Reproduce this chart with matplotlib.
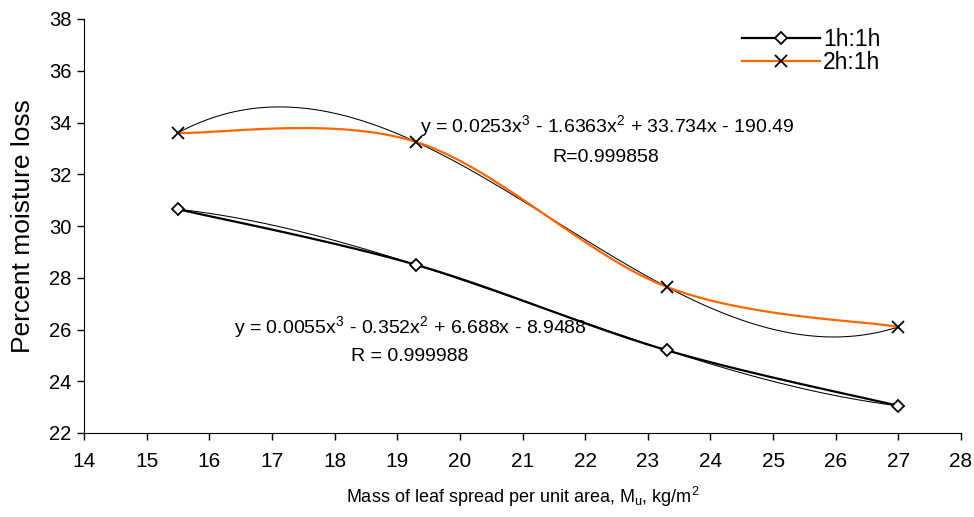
import numpy as np
import matplotlib
matplotlib.use('Agg')
import matplotlib.pyplot as plt

# data
mass = [15.5, 19.3, 23.3, 27.0]
loss_1h1h = [30.65, 28.5, 25.2, 23.05]
loss_2h1h = [33.6, 33.25, 27.65, 26.1]

eq_1h1h = 'y = 0.0055x$^\\mathregular{3}$ - 0.352x$^\\mathregular{2}$ + 6.688x - 8.9488'
r_1h1h = 'R = 0.999988'
eq_2h1h = 'y = 0.0253x$^\\mathregular{3}$ - 1.6363x$^\\mathregular{2}$ + 33.734x - 190.49'
r_2h1h = 'R=0.999858'

plt.rcParams['font.family'] = ['Liberation Sans', 'DejaVu Sans']
plt.rcParams['mathtext.fontset'] = 'custom'
plt.rcParams['mathtext.rm'] = 'Liberation Sans'


def smooth_line(xs, ys, n=40):
    # Excel-style smoothed line (Catmull-Rom as cubic Bezier)
    pts = np.column_stack([xs, ys]).astype(float)
    ext = np.vstack([pts[0], pts, pts[-1]])
    out = []
    t = np.linspace(0, 1, n)[:, None]
    for i in range(len(pts) - 1):
        p0 = ext[i + 1]
        p3 = ext[i + 2]
        c1 = p0 + (ext[i + 2] - ext[i]) / 6.0
        c2 = p3 - (ext[i + 3] - ext[i + 1]) / 6.0
        seg = ((1 - t) ** 3) * p0 + 3 * ((1 - t) ** 2) * t * c1 + 3 * (1 - t) * t ** 2 * c2 + t ** 3 * p3
        out.append(seg)
    out = np.vstack(out)
    return out[:, 0], out[:, 1]


fig = plt.figure(figsize=(9.74, 5.17), dpi=100)
ax = fig.add_axes([84 / 974, 1 - 433 / 517, 877 / 974, 414 / 517])

# cubic trendlines (fitted to the points, like the spreadsheet does)
xt = np.linspace(mass[0], mass[-1], 300)
ax.plot(xt, np.polyval(np.polyfit(mass, loss_1h1h, 3), xt), color='black', lw=0.75)
ax.plot(xt, np.polyval(np.polyfit(mass, loss_2h1h, 3), xt), color='black', lw=0.75)

sx, sy = smooth_line(mass, loss_1h1h)
ax.plot(sx, sy, color='black', lw=1.6)
sx, sy = smooth_line(mass, loss_2h1h)
ax.plot(sx, sy, color='#FF6600', lw=1.6)

dkw = dict(marker='D', ms=6.5, mfc='white', mec='black', mew=1.3)
xkw = dict(marker='x', ms=9, mec='black', mew=1.3)
l1, = ax.plot([], [], color='black', lw=1.6, label='1h:1h', **dkw)
l2, = ax.plot([], [], color='#FF6600', lw=1.6, label='2h:1h', **xkw)
ax.plot(mass, loss_1h1h, ls='none', zorder=5, **dkw)
ax.plot(mass, loss_2h1h, ls='none', zorder=5, **xkw)

ax.set_xlim(14, 28)
ax.set_ylim(22, 38)
ax.set_xticks(np.arange(14, 29, 1))
ax.set_yticks(np.arange(22, 39, 2))
ax.tick_params(direction='out', length=5, width=1)
ax.tick_params(axis='y', labelsize=14.5, pad=4)
ax.tick_params(axis='x', labelsize=15, pad=9)
for s in ['top', 'right']:
    ax.spines[s].set_visible(False)

ax.set_xlabel('Mass of leaf spread per unit area, M$_\\mathregular{u}$, kg/m$^\\mathregular{2}$',
              fontsize=13, labelpad=10)
ax.set_ylabel('Percent moisture loss', fontsize=19, labelpad=10)

ax.text(19.37, 33.83, eq_2h1h, fontsize=14, ha='left', va='center')
ax.text(22.33, 32.63, r_2h1h, fontsize=14, ha='center', va='center')
ax.text(16.4, 26.06, eq_1h1h, fontsize=14, ha='left', va='center')
ax.text(19.2, 24.94, r_1h1h, fontsize=14, ha='center', va='center')

ax.legend(handles=[l1, l2], loc='upper right', bbox_to_anchor=(0.908, 0.978), frameon=False,
          fontsize=16.5, handlelength=3.4, handletextpad=0.15, labelspacing=0.0, borderaxespad=0,
          borderpad=0)

fig.savefig('out.png', dpi=100)
